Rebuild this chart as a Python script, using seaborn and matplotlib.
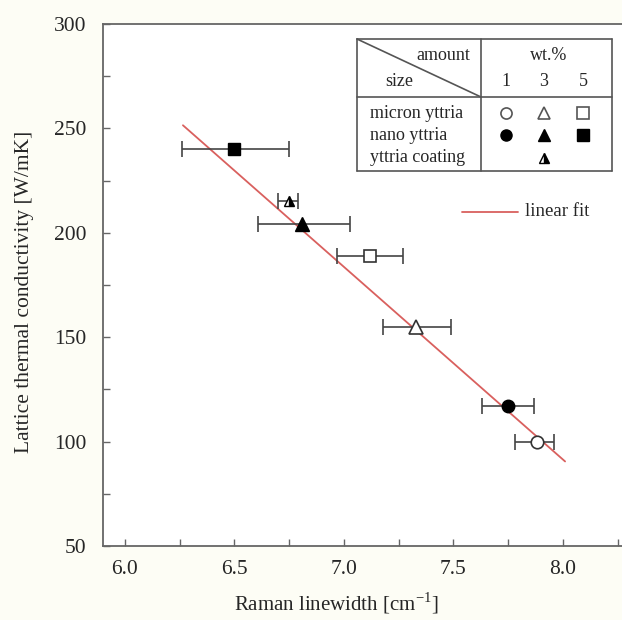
import numpy as np
import pandas as pd
import matplotlib
matplotlib.use("Agg")
import matplotlib.pyplot as plt
from matplotlib.lines import Line2D
from matplotlib.ticker import MultipleLocator
import seaborn as sns

# ---- data ----
labels = ["nano 5", "coating 3", "nano 3", "micron 5", "micron 3", "nano 1", "micron 1"]
raman = [6.50, 6.75, 6.81, 7.12, 7.33, 7.75, 7.88]
kappa = [240, 215, 204, 189, 155, 117, 100]
err_lo = [6.26, 6.70, 6.61, 6.97, 7.18, 7.63, 7.78]
err_hi = [6.75, 6.79, 7.03, 7.27, 7.49, 7.87, 7.96]
markers = ["s", "^", "^", "s", "^", "o", "o"]
fills = ["full", "right", "full", "none", "none", "full", "none"]
fit_x = [6.265, 8.01]
fit_y = [251.5, 90.5]
xticks = [6.0, 6.5, 7.0, 7.5, 8.0]
yticks = [50, 100, 150, 200, 250, 300]

sns.set_style("ticks")
plt.rcParams["font.family"] = ["Liberation Serif", "DejaVu Serif"]

W, H = 622, 620
fig = plt.figure(figsize=(W / 100, H / 100), dpi=100, facecolor="#fdfdf5")
px = lambda x, y: (x / W, 1 - y / H)

left, right_px, top, bot = 103, 103 + 2.4 * 219, 24, 546
aw, ah = right_px - left, bot - top
ax = fig.add_axes([left / W, 1 - bot / H, aw / W, ah / H])
ax.set_facecolor("white")
ax.set_xlim(5.9, 8.3)
ax.set_ylim(50, 300)

df_fit = pd.DataFrame({"x": fit_x, "y": fit_y})
sns.lineplot(data=df_fit, x="x", y="y", ax=ax, color="#d9605e", lw=1.3, zorder=2)

for i in range(len(raman)):
    ax.errorbar(raman[i], kappa[i],
                xerr=[[raman[i] - err_lo[i]], [err_hi[i] - raman[i]]],
                fmt="none", ecolor="#444444", elinewidth=1.2, capsize=5.5,
                capthick=1.2, zorder=3)
    ms = 7 if fills[i] == "right" else (10 if markers[i] == "^" else 9)
    if fills[i] == "none":
        ax.plot(raman[i], kappa[i], marker=markers[i], ms=ms, mfc="white",
                mec="#333333", mew=1.2, ls="none", zorder=4)
    elif fills[i] == "right":
        ax.plot(raman[i], kappa[i], marker=markers[i], ms=ms, fillstyle="right",
                mfc="black", markerfacecoloralt="white", mec="black", mew=1.0,
                ls="none", zorder=4)
    else:
        ax.plot(raman[i], kappa[i], marker=markers[i], ms=ms, mfc="black",
                mec="black", ls="none", zorder=4)

ax.set_xticks(xticks)
ax.set_yticks(yticks)
ax.set_xticklabels([f"{t:.1f}" for t in xticks])
ax.set_yticklabels([str(t) for t in yticks])
ax.xaxis.set_minor_locator(MultipleLocator(0.25))
ax.yaxis.set_minor_locator(MultipleLocator(25))
ax.tick_params(which="both", direction="in", length=5, width=1, color="#666666",
               labelsize=15.5, top=False, right=False)
ax.tick_params(axis="x", pad=10)
ax.tick_params(axis="y", pad=12)
for s in ax.spines.values():
    s.set_color("#666666")
    s.set_linewidth(1.3)
ax.set_xlabel("Raman linewidth [cm$^{\\mathregular{-1}}$]", fontsize=15)
ax.set_ylabel("Lattice thermal conductivity [W/mK]", fontsize=15.5)
ax.xaxis.set_label_coords((336 - left) / aw, (bot - 590) / ah)
ax.yaxis.set_label_coords((34 - left) / aw, (bot - 292) / ah)

# ---- table legend (figure pixel coords) ----
tl, tr, tt, tb, tmid, tdiv = 357, 612, 39, 171, 97, 481
ec = "#555555"
for (x0, y0, x1, y1) in [(tl, tt, tr, tt), (tl, tb, tr, tb), (tl, tt, tl, tb),
                         (tr, tt, tr, tb), (tl, tmid, tr, tmid), (tdiv, tt, tdiv, tb),
                         (tl, tt, tdiv, tmid)]:
    fig.add_artist(Line2D([x0 / W, x1 / W], [1 - y0 / H, 1 - y1 / H], color=ec,
                          lw=1.2, transform=fig.transFigure))
fs = 13
fig.text(*px(470, 55), "amount", ha="right", va="center", fontsize=fs)
fig.text(*px(385, 82), "size", ha="left", va="center", fontsize=fs)
fig.text(*px(549, 55), "wt.%", ha="center", va="center", fontsize=fs)
colx = [506, 544, 583]
for cx, t in zip(colx, ["1", "3", "5"]):
    fig.text(*px(cx, 82), t, ha="center", va="center", fontsize=fs)
rows_y = [113, 135, 158]
for ry, t in zip(rows_y, ["micron yttria", "nano yttria", "yttria coating"]):
    fig.text(*px(370, ry), t, ha="left", va="center", fontsize=fs)
leg_m = [("o", "none", 0, 0), ("^", "none", 1, 0), ("s", "none", 2, 0),
         ("o", "full", 0, 1), ("^", "full", 1, 1), ("s", "full", 2, 1),
         ("^", "right", 1, 2)]
for m, f, c, r in leg_m:
    kw = dict(marker=m, ms=8 if m != "^" else 9, ls="none", transform=fig.transFigure)
    if f == "none":
        kw.update(mfc="white", mec="#555555", mew=1.2)
    elif f == "right":
        kw.update(fillstyle="right", mfc="black", markerfacecoloralt="white",
                  mec="black", mew=1.0, ms=7)
    else:
        kw.update(mfc="black", mec="black")
    fig.add_artist(Line2D([colx[c] / W], [1 - rows_y[r] / H], **kw))

fig.add_artist(Line2D([462 / W, 518 / W], [1 - 212 / H, 1 - 212 / H],
                      color="#d9605e", lw=1.3, transform=fig.transFigure))
fig.text(*px(525, 212), "linear fit", ha="left", va="center", fontsize=13.5)

fig.savefig("out.png", dpi=100, facecolor=fig.get_facecolor())
